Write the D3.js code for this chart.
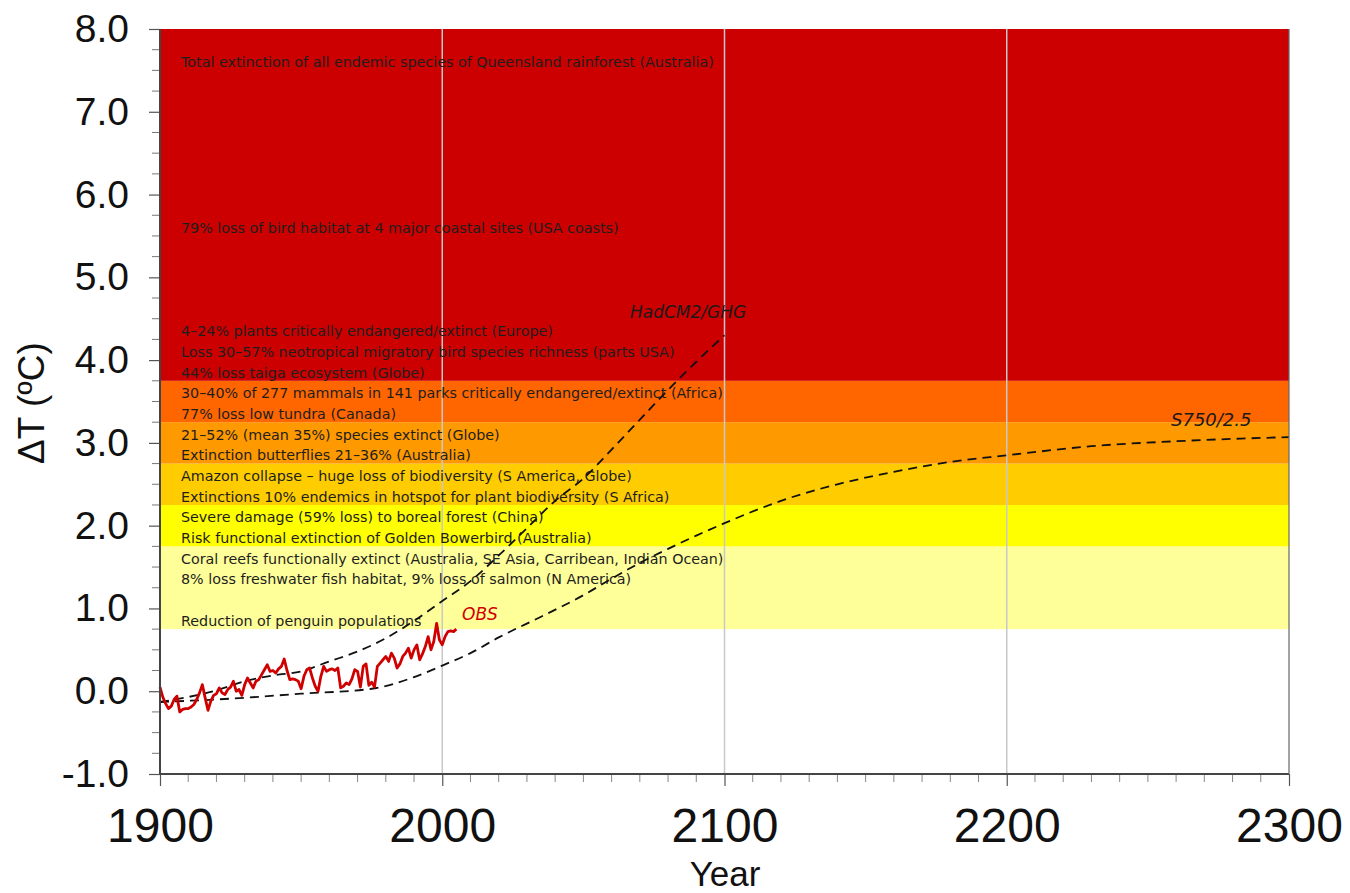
<!DOCTYPE html>
<html><head><meta charset="utf-8">
<script src="https://cdn.jsdelivr.net/npm/d3@7"></script>
<style>body{margin:0;background:#fff}svg{display:block}</style>
</head><body>
<svg id="c" width="1350" height="893"></svg>
<script>
// ---------- data ----------
const bandLow    = [0.75, 1.75, 2.25, 2.75, 3.25, 3.75];
const bandHigh   = [1.75, 2.25, 2.75, 3.25, 3.75, 8.0];
const bandColors = ["#FFFF99", "#FFFF00", "#FFCC00", "#FF9900", "#FF6600", "#CC0000"];

const impactTexts = [
  "Total extinction of all endemic species of Queensland rainforest (Australia)",
  "79% loss of bird habitat at 4 major coastal sites (USA coasts)",
  "4–24% plants critically endangered/extinct (Europe)",
  "Loss 30–57% neotropical migratory bird species richness (parts USA)",
  "44% loss taiga ecosystem (Globe)",
  "30–40% of 277 mammals in 141 parks critically endangered/extinct (Africa)",
  "77% loss low tundra (Canada)",
  "21–52% (mean 35%) species extinct (Globe)",
  "Extinction butterflies 21–36% (Australia)",
  "Amazon collapse – huge loss of biodiversity (S America, Globe)",
  "Extinctions 10% endemics in hotspot for plant biodiversity (S Africa)",
  "Severe damage (59% loss) to boreal forest (China)",
  "Risk functional extinction of Golden Bowerbird (Australia)",
  "Coral reefs functionally extinct (Australia, SE Asia, Carribean, Indian Ocean)",
  "8% loss freshwater fish habitat, 9% loss of salmon (N America)",
  "Reduction of penguin populations"
];
const impactTemps = [7.60, 5.60, 4.35, 4.10, 3.85, 3.60, 3.35, 3.10, 2.85, 2.60, 2.35, 2.10, 1.85, 1.60, 1.35, 0.85];

const obsYears = [1900,1901,1902,1903,1904,1905,1906,1907,1908,1909,1910,1911,1912,1913,1914,1915,1916,1917,1918,1919,
  1920,1921,1922,1923,1924,1925,1926,1927,1928,1929,1930,1931,1932,1933,1934,1935,1936,1937,1938,1939,
  1940,1941,1942,1943,1944,1945,1946,1947,1948,1949,1950,1951,1952,1953,1954,1955,1956,1957,1958,1959,
  1960,1961,1962,1963,1964,1965,1966,1967,1968,1969,1970,1971,1972,1973,1974,1975,1976,1977,1978,1979,
  1980,1981,1982,1983,1984,1985,1986,1987,1988,1989,1990,1991,1992,1993,1994,1995,1996,1997,1998,1999,
  2000,2001,2002,2003,2004,2005];
const obsTemps = [0.05,-0.07,-0.15,-0.21,-0.18,-0.10,-0.06,-0.25,-0.22,-0.21,-0.21,-0.19,-0.16,-0.10,-0.02,0.08,-0.08,-0.23,-0.12,-0.05,
  -0.03,0.04,-0.02,-0.04,0.02,0.05,0.12,0.00,0.02,-0.05,0.08,0.16,0.10,0.04,0.12,0.14,0.20,0.26,0.32,0.24,
  0.25,0.22,0.27,0.30,0.39,0.25,0.14,0.15,0.14,0.12,0.03,0.18,0.26,0.28,0.16,0.06,0.00,0.18,0.30,0.24,
  0.26,0.27,0.25,0.28,0.04,0.06,0.10,0.08,0.15,0.26,0.24,0.05,0.30,0.33,0.07,0.11,0.05,0.30,0.34,0.38,
  0.42,0.36,0.46,0.40,0.28,0.33,0.42,0.46,0.52,0.40,0.50,0.56,0.38,0.45,0.54,0.66,0.50,0.60,0.82,0.62,
  0.56,0.66,0.72,0.73,0.72,0.75];

const ghgYears = [1900,1910,1920,1930,1940,1950,1960,1970,1980,1990,2000,2010,2020,2030,2040,2050,2060,2070,2080,2090,2100];
const ghgTemps = [-0.13,-0.07,0.01,0.12,0.19,0.24,0.36,0.48,0.64,0.85,1.09,1.33,1.64,1.97,2.30,2.57,2.92,3.28,3.64,3.98,4.30];

const s750Years = [1900,1925,1950,1975,1990,2000,2010,2020,2035,2050,2060,2070,2080,2090,2100,2120,2140,2160,2180,2200,2230,2260,2300];
const s750Temps = [-0.13,-0.09,-0.03,0.03,0.17,0.31,0.46,0.65,0.90,1.16,1.36,1.55,1.72,1.88,2.03,2.30,2.50,2.65,2.77,2.85,2.96,3.02,3.07];

const xTicks = [1900, 2000, 2100, 2200, 2300];
const yTicks = [-1, 0, 1, 2, 3, 4, 5, 6, 7, 8];
const gridYears = [2000, 2100, 2200];

// ---------- chart ----------
const svg = d3.select("#c");
const x = d3.scaleLinear().domain([1900, 2300]).range([160, 1289]);
const y = d3.scaleLinear().domain([-1, 8]).range([774, 29]);
const FONT = "'Liberation Sans', Arial, sans-serif";
const TFONT = "'DejaVu Sans', sans-serif";

// bands
svg.append("g").selectAll("rect").data(bandLow).join("rect")
  .attr("x", x(1900)).attr("width", x(2300) - x(1900))
  .attr("y", (d, i) => y(bandHigh[i]))
  .attr("height", (d, i) => y(d) - y(bandHigh[i]))
  .attr("fill", (d, i) => bandColors[i]);

// vertical grid
svg.append("g").selectAll("line").data(gridYears).join("line")
  .attr("x1", d => x(d)).attr("x2", d => x(d))
  .attr("y1", y(8)).attr("y2", y(-1))
  .attr("stroke", "#c8c8c8").attr("stroke-width", 1.5);

// impact texts
svg.append("g").selectAll("text").data(impactTexts).join("text")
  .attr("x", 181).attr("y", (d, i) => y(impactTemps[i]))
  .attr("dominant-baseline", "central")
  .attr("font-family", TFONT).attr("font-size", 14.3)
  .attr("fill", "#1e1e1e")
  .text(d => d);

// dashed curves
const line = d3.line().x(d => x(d[0])).y(d => y(d[1])).curve(d3.curveMonotoneX);
svg.append("path").datum(ghgYears.map((yr, i) => [yr, ghgTemps[i]]))
  .attr("d", line).attr("fill", "none").attr("stroke", "#111")
  .attr("stroke-width", 1.8).attr("stroke-dasharray", "9,6");
svg.append("path").datum(s750Years.map((yr, i) => [yr, s750Temps[i]]))
  .attr("d", line).attr("fill", "none").attr("stroke", "#111")
  .attr("stroke-width", 1.8).attr("stroke-dasharray", "9,6");

// observed
const lineObs = d3.line().x(d => x(d[0])).y(d => y(d[1]));
svg.append("path").datum(obsYears.map((yr, i) => [yr, obsTemps[i]]))
  .attr("d", lineObs).attr("fill", "none").attr("stroke", "#D00000")
  .attr("stroke-width", 2.8).attr("stroke-linejoin", "round");

// series labels
svg.append("text").attr("x", 630).attr("y", 318)
  .attr("font-family", TFONT).attr("font-style", "italic").attr("font-size", 17)
  .attr("fill", "#1a1a1a").text("HadCM2/GHG");
svg.append("text").attr("x", 1171).attr("y", 426)
  .attr("font-family", TFONT).attr("font-style", "italic").attr("font-size", 18)
  .attr("fill", "#1a1a1a").text("S750/2.5");
svg.append("text").attr("x", 462).attr("y", 620)
  .attr("font-family", TFONT).attr("font-style", "italic").attr("font-size", 17)
  .attr("fill", "#D00000").text("OBS");

// axes
const yAxis = d3.axisLeft(y).tickValues(yTicks).tickFormat(d => d.toFixed(1)).tickSize(11).tickPadding(20);
const gy = svg.append("g").attr("transform", `translate(${x(1900)},0)`).call(yAxis);
gy.select(".domain").remove();
gy.selectAll(".tick line").attr("stroke", "#555").attr("stroke-width", 1.2);
gy.selectAll(".tick text").attr("font-family", FONT).attr("font-size", 39).attr("fill", "#111");

const yMinor = d3.range(-1, 8.001, 0.25).filter(v => Math.abs(v - Math.round(v)) > 0.01);
svg.append("g").selectAll("line").data(yMinor).join("line")
  .attr("x1", x(1900) - 8).attr("x2", x(1900))
  .attr("y1", d => y(d)).attr("y2", d => y(d))
  .attr("stroke", "#777").attr("stroke-width", 1);

const xAxis = d3.axisBottom(x).tickValues(xTicks).tickFormat(d3.format("d")).tickSize(12).tickPadding(22);
const gx = svg.append("g").attr("transform", `translate(0,${y(-1)})`).call(xAxis);
gx.select(".domain").remove();
gx.selectAll(".tick line").attr("stroke", "#555").attr("stroke-width", 1.2);
gx.selectAll(".tick text").attr("font-family", FONT).attr("font-size", 48).attr("fill", "#111");

const xMinor = d3.range(1910, 2300, 10).filter(v => v % 100 !== 0);
svg.append("g").selectAll("line").data(xMinor).join("line")
  .attr("x1", d => x(d)).attr("x2", d => x(d))
  .attr("y1", y(-1)).attr("y2", y(-1) + 8)
  .attr("stroke", "#888").attr("stroke-width", 1);

// frame lines
svg.append("line").attr("x1", x(1900)).attr("x2", x(1900)).attr("y1", y(8)).attr("y2", y(-1))
  .attr("stroke", "#444").attr("stroke-width", 2);
svg.append("line").attr("x1", x(1900)).attr("x2", x(2300)).attr("y1", y(-1)).attr("y2", y(-1))
  .attr("stroke", "#444").attr("stroke-width", 2);
svg.append("line").attr("x1", x(2300)).attr("x2", x(2300)).attr("y1", y(8)).attr("y2", y(-1))
  .attr("stroke", "#666").attr("stroke-width", 1.2);

// axis titles
svg.append("text").attr("x", 725).attr("y", 886).attr("text-anchor", "middle")
  .attr("font-family", FONT).attr("font-size", 35).attr("fill", "#111").text("Year");
svg.append("text").attr("transform", "translate(44,403) rotate(-90)").attr("text-anchor", "middle")
  .attr("font-family", FONT).attr("font-size", 37).attr("fill", "#111").text("ΔT (ºC)");
</script>
</body></html>
